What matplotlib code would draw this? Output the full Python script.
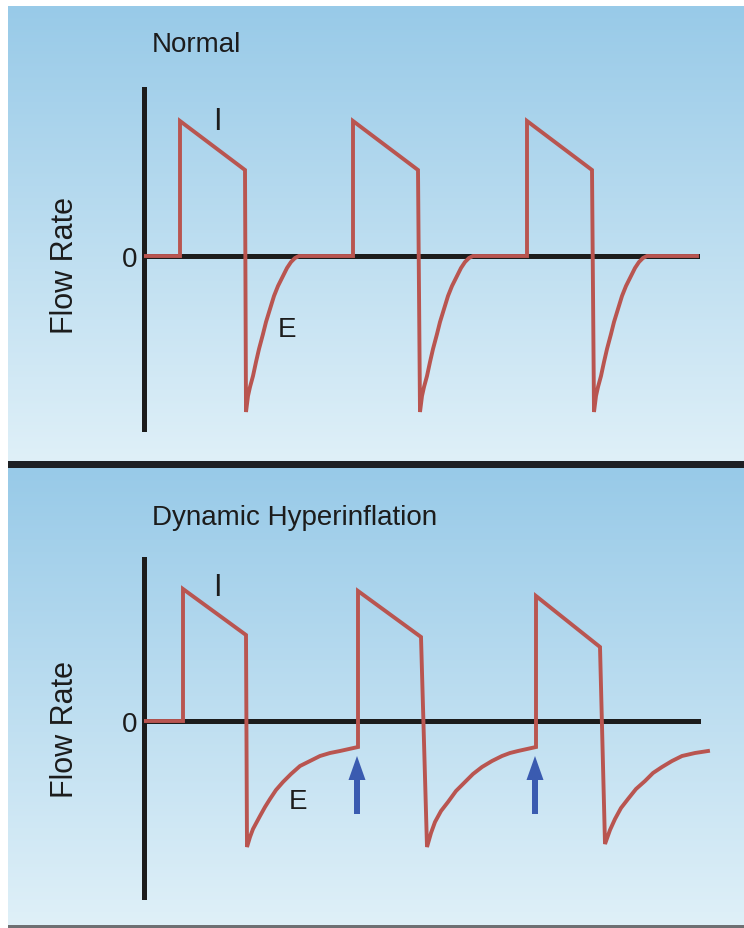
import numpy as np
import matplotlib
matplotlib.use("Agg")
import matplotlib.pyplot as plt
from matplotlib import font_manager

# flow waveforms, time in s (0 at the flow axis), flow in arbitrary units
t_normal = [0, 0.36, 0.36, 1.01,
            1.02, 1.04, 1.06, 1.09, 1.12, 1.15, 1.19, 1.22, 1.26, 1.30, 1.34, 1.39, 1.43, 1.47, 1.51, 1.55,
            2.09, 2.09, 2.74,
            2.76, 2.78, 2.80, 2.83, 2.86, 2.89, 2.93, 2.96, 3.00, 3.04, 3.08, 3.13, 3.17, 3.21, 3.25, 3.29,
            3.83, 3.83, 4.48,
            4.50, 4.52, 4.54, 4.57, 4.60, 4.63, 4.67, 4.70, 4.74, 4.78, 4.82, 4.87, 4.91, 4.95, 4.99, 5.03,
            5.53]
flow_normal = [0, 0, 1.35, 0.86,
               -1.56, -1.40, -1.31, -1.20, -1.06, -0.93, -0.78, -0.66, -0.53, -0.40, -0.30, -0.20, -0.12, -0.06, -0.02, 0,
               0, 1.35, 0.86,
               -1.56, -1.40, -1.31, -1.20, -1.06, -0.93, -0.78, -0.66, -0.53, -0.40, -0.30, -0.20, -0.12, -0.06, -0.02, 0,
               0, 1.35, 0.86,
               -1.56, -1.40, -1.31, -1.20, -1.06, -0.93, -0.78, -0.66, -0.53, -0.40, -0.30, -0.20, -0.12, -0.06, -0.02, 0,
               0]

t_hyper = [0, 0.39, 0.39, 1.02,
           1.03, 1.06, 1.09, 1.16, 1.21, 1.26, 1.32, 1.39, 1.47, 1.56, 1.66, 1.76, 1.86, 1.96, 2.05, 2.14,
           2.14, 2.77,
           2.83, 2.87, 2.91, 2.97, 3.04, 3.12, 3.21, 3.29, 3.38, 3.48, 3.58, 3.66, 3.74, 3.83, 3.92,
           3.92, 4.56,
           4.61, 4.66, 4.71, 4.77, 4.84, 4.92, 5.01, 5.09, 5.18, 5.28, 5.38, 5.51, 5.64]
flow_hyper = [0, 0, 1.32, 0.86,
              -1.26, -1.16, -1.08, -0.95, -0.86, -0.78, -0.69, -0.61, -0.53, -0.45, -0.40, -0.35, -0.32, -0.30, -0.28, -0.26,
              1.30, 0.84,
              -1.26, -1.12, -1.01, -0.90, -0.81, -0.70, -0.61, -0.53, -0.46, -0.40, -0.35, -0.32, -0.30, -0.28, -0.26,
              1.25, 0.74,
              -1.23, -1.09, -0.98, -0.87, -0.78, -0.68, -0.60, -0.52, -0.46, -0.40, -0.35, -0.32, -0.30]

# arrows where the next breath starts before expiration ends
arrow_t = [2.13, 3.91]
arrow_from = -0.93
arrow_to = -0.35

titles = ["Normal", "Dynamic Hyperinflation"]

names = {f.name for f in font_manager.fontManager.ttflist}
if "Liberation Sans Narrow" in names:
    fam, fs = "Liberation Sans Narrow", 24
else:
    fam, fs = "Liberation Sans", 20
plt.rcParams["font.family"] = [fam, "DejaVu Sans"]

RED = "#b95550"
BLUE = "#3a5bb0"
INK = "#1c1c1c"

W, H = 744, 929
fig = plt.figure(figsize=(W / 100, H / 100), dpi=100)
fig.patch.set_facecolor("white")

# background: two gradient panels with a dark separator
top_c = np.array([152, 202, 232]) / 255
bot_c = np.array([223, 240, 248]) / 255
img = np.ones((H, 1, 3))
for y0, y1 in [(7, 462), (469, 926)]:
    f = np.linspace(0, 1, y1 - y0)[:, None]
    img[y0:y1, 0, :] = top_c * (1 - f) + bot_c * f
img[462:469, 0, :] = np.array([30, 32, 36]) / 255
img[926:929, 0, :] = np.array([110, 112, 115]) / 255
bg = fig.add_axes([8 / W, 0, 1 - 8 / W, 1])
bg.imshow(img, aspect="auto", interpolation="nearest", extent=[0, 1, 0, 1])
bg.axis("off")


def panel(top_px, bot_px, zero_px, ax_top, ax_bot, t, flow, end):
    ax = fig.add_axes([144 / W, 1 - bot_px / H, 600 / W, (bot_px - top_px) / H])
    ax.set_facecolor("none")
    ax.set_xlim(0, 6.0)
    ax.set_ylim((zero_px - bot_px) / 100, (zero_px - top_px) / 100)
    for s in ["top", "right"]:
        ax.spines[s].set_visible(False)
    ax.spines["left"].set_position(("data", 0))
    ax.spines["bottom"].set_position(("data", 0))
    ax.spines["left"].set_bounds((zero_px - ax_bot) / 100, (zero_px - ax_top) / 100)
    ax.spines["bottom"].set_bounds(0, end)
    for s in ["left", "bottom"]:
        ax.spines[s].set_linewidth(3.6)
        ax.spines[s].set_color(INK)
    ax.set_xticks([])
    ax.set_yticks([0])
    ax.set_yticklabels(["0"])
    ax.tick_params(axis="y", length=0, pad=5, labelsize=fs, labelcolor=INK)
    ax.plot(t, flow, color=RED, lw=2.8, solid_joinstyle="miter", zorder=3)
    fig.text(65 / W, 1 - (zero_px + 8) / H, "Flow Rate", rotation=90,
             ha="center", va="center", fontsize=fs + 2, color=INK)
    return ax


ax1 = panel(60, 450, 257, 90, 430, t_normal, flow_normal, 5.53)
ax1.text(0.73, 1.35, "I", fontsize=fs + 2, color=INK, ha="center", va="center")
ax1.text(1.43, -0.73, "E", fontsize=fs, color=INK, ha="center", va="center")
fig.text(152 / W, 1 - 45 / H, titles[0], ha="left", va="center", fontsize=fs, color=INK)

ax2 = panel(530, 910, 722, 560, 898, t_hyper, flow_hyper, 5.54)
ax2.text(0.73, 1.34, "I", fontsize=fs + 2, color=INK, ha="center", va="center")
ax2.text(1.54, -0.80, "E", fontsize=fs, color=INK, ha="center", va="center")
fig.text(152 / W, 1 - 518 / H, titles[1], ha="left", va="center", fontsize=fs, color=INK)

for x in arrow_t:
    ax2.arrow(x, arrow_from, 0, arrow_to - arrow_from, width=0.06, head_width=0.17,
              head_length=0.24, length_includes_head=True, color=BLUE, lw=0, zorder=4)

fig.savefig("out.png", dpi=100)
